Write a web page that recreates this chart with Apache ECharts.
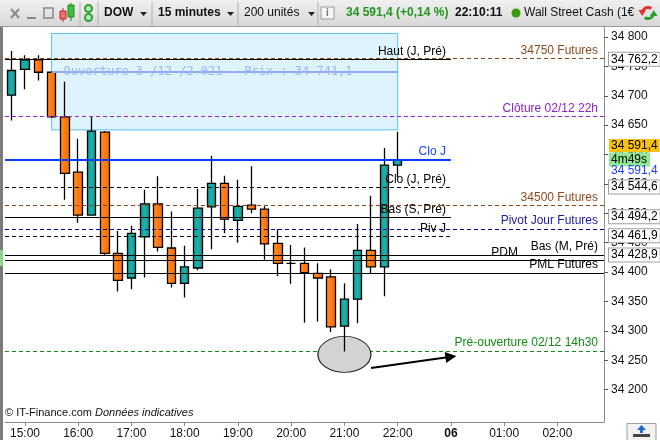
<!DOCTYPE html>
<html>
<head>
<meta charset="utf-8">
<script src="https://cdn.jsdelivr.net/npm/echarts@6/dist/echarts.min.js"></script>
<style>
  html, body { margin: 0; padding: 0; background: #fff; }
  #main { width: 660px; height: 440px; }
</style>
</head>
<body>
<div id="main"></div>
<script>
// DOW cash, 15 minute bars (Fri 3 Dec 2021, then Mon 6 Dec)
var times = ['14:45','15:00','15:15','15:30','15:45','16:00','16:15','16:30','16:45','17:00',
  '17:15','17:30','17:45','18:00','18:15','18:30','18:45','19:00','19:15','19:30',
  '19:45','20:00','20:15','20:30','20:45','21:00','21:15','21:30','21:45','22:00',
  '22:15','22:30','22:45','00:00','00:15','00:30','00:45','01:00','01:15','01:30',
  '01:45','02:00','02:15','02:30','02:45'];
var dayLabel = '06';

var openVals  = [34701,34745,34761,34740,34664,34570,34497,34638,34432,34390,
  34460,34516,34441,34381,34407,34511,34551,34488,34514,34507,
  34449,34415,34415,34398,34392,34308,34354,34437,34409,34582];
var closeVals = [34743,34761,34740,34664,34568,34497,34640,34432,34386,34466,
  34516,34442,34381,34409,34509,34551,34490,34512,34507,34448,
  34415,34415,34399,34390,34307,34354,34437,34409,34582,34591.4];
var lowVals   = [34658,34711,34726,34662,34523,34484,34497,34429,34367,34371,
  34391,34435,34374,34357,34403,34439,34466,34450,34500,34421,
  34393,34380,34314,34316,34298,34265,34313,34398,34359,34561];
var highVals  = [34776,34769,34769,34742,34724,34627,34664,34640,34470,34479,
  34540,34563,34503,34445,34542,34598,34564,34557,34580,34512,
  34473,34446,34442,34415,34405,34381,34482,34530,34611,34639];

var priceTicks = [34200,34250,34300,34350,34400,34450,34500,34550,34600,34650,34700,34750,34800];

// horizontal levels drawn over the chart
var levelNames  = ['Haut (J, Pré)','34750 Futures','Clôture 02/12 22h','Clo J','Clo (J, Pré)',
  '34500 Futures','Bas (S, Pré)','Pivot Jour Futures','Piv J','Bas (M, Pré)','PDM','PML Futures'];
var levelValues = [34762.2,34763,34665,34591.4,34544.6,34513,34494.2,34473.5,34461.9,34428.9,34420,34398.5];
var shortLevelEnd = '00:00';

var preOpenName = 'Pré-ouverture 02/12 14h30';
var preOpenValue = 34265.6;

var openName = 'Ouverture 3 /12 /2 021 \u2013 Prix : 34 741,1';
var openValue = 34741.1;
var boxTimes = ['15:30','22:00'];
var boxPrices = [34806, 34642];

var badgeValues = [34762.2,34544.6,34494.2,34461.9,34428.9];
var lastPrice = 34591.4;
var countdown = '4m49s';

var circleAt = ['21:00', 34260];
var arrowFrom = ['21:30', 34237];
var arrowTo = ['00:00', 34256];

// looks of each level (same order as levelNames)
var levelLook = [
  { c: '#000000', t: 'solid',  w: 1, full: false, tc: '#000000' },
  { c: '#8b4513', t: [4, 3],   w: 1, full: true,  tc: '#8f4a1c' },
  { c: '#9a1fd0', t: [4, 3],   w: 1, full: true,  tc: '#8e22c4' },
  { c: '#0a3cff', t: 'solid',  w: 2, full: false, tc: '#1a44ff' },
  { c: '#000000', t: [4, 3],   w: 1, full: false, tc: '#000000' },
  { c: '#8b4513', t: [4, 3],   w: 1, full: true,  tc: '#8f4a1c' },
  { c: '#000000', t: 'solid',  w: 1, full: false, tc: '#000000' },
  { c: '#00008b', t: [4, 3],   w: 1, full: true,  tc: '#1a1aa8' },
  { c: '#000000', t: [4, 3],   w: 1, full: false, tc: '#000000' },
  { c: '#000000', t: 'solid',  w: 1, full: true,  tc: '#000000' },
  { c: '#000000', t: 'solid',  w: 1, full: true,  tc: '#000000', dx: 86 },
  { c: '#000000', t: 'solid',  w: 1, full: true,  tc: '#000000' }
];

var FONT = 'Liberation Sans, Arial, sans-serif';

function fmtPrice(v, dec) {
  var s = dec ? v.toFixed(1) : v.toFixed(0);
  var parts = s.split('.');
  var intPart = parts[0].replace(/\B(?=(\d{3})+(?!\d))/g, ' ');
  return parts.length > 1 ? intPart + ',' + parts[1] : intPart;
}

var candles = openVals.map(function (o, i) {
  return [o, closeVals[i], lowVals[i], highVals[i]];
});

// full width levels -> markLine, short ones (stop at Monday open) -> custom series
var levelLines = [];
var shortLevels = [];
levelNames.forEach(function (name, i) {
  var s = levelLook[i];
  if (!s.full) {
    shortLevels.push([shortLevelEnd, levelValues[i], i]);
    return;
  }
  levelLines.push({
    yAxis: levelValues[i],
    lineStyle: { color: s.c, type: s.t, width: s.w },
    label: {
      show: true, formatter: name, position: 'insideEndTop',
      distance: [s.dx || 6, 2], color: s.tc, fontSize: 12, fontFamily: FONT
    }
  });
});

levelLines.push([
  {
    coord: [boxTimes[0], openValue],
    lineStyle: { color: '#8eaaf2', type: 'solid', width: 2 },
    label: {
      show: true, formatter: openName, position: 'insideStartTop', verticalAlign: 'middle',
      distance: [12, 0], color: '#9db4f6', fontSize: 12, fontFamily: 'DejaVu Sans Mono'
    }
  },
  { coord: [boxTimes[1], openValue] }
]);

var badgeLines = badgeValues.map(function (v) {
  return { yAxis: v, label: { formatter: fmtPrice(v, true) } };
});
badgeLines.push({
  yAxis: lastPrice,
  label: {
    formatter: '{y|' + fmtPrice(lastPrice, true) + '}\n{g|' + countdown + '}\n{b|' + fmtPrice(lastPrice, true) + '}',
    backgroundColor: 'transparent', borderWidth: 0, padding: [0, 0, 5, 0],
    rich: {
      y: { backgroundColor: '#f8c20f', color: '#000', fontSize: 12, fontFamily: FONT, padding: [1, 2, 0, 2], lineHeight: 13 },
      g: { backgroundColor: '#92e892', color: '#000', fontSize: 12, fontFamily: FONT, padding: [1, 3, 1, 2], lineHeight: 15 },
      b: { color: '#1e3cff', fontSize: 12, fontFamily: FONT, padding: [0, 2, 0, 2], lineHeight: 8 }
    }
  }
});

var tealGrad = new echarts.graphic.LinearGradient(0, 0, 1, 0, [
  { offset: 0, color: '#0e9a95' }, { offset: 0.5, color: '#1fb1ab' }, { offset: 1, color: '#0c8f8a' }
]);
var orangeGrad = new echarts.graphic.LinearGradient(0, 0, 1, 0, [
  { offset: 0, color: '#ff9330' }, { offset: 0.5, color: '#ff7a12' }, { offset: 1, color: '#f56a00' }
]);

function renderShortLevel(params, api) {
  var i = api.value(2);
  var s = levelLook[i];
  var end = api.coord([api.value(0), api.value(1)]);
  var x0 = params.coordSys.x;
  var y = s.w % 2 ? Math.round(end[1]) + 0.5 : Math.round(end[1]);
  return {
    type: 'group',
    children: [
      { type: 'line', shape: { x1: x0, y1: y, x2: end[0], y2: y },
        style: { stroke: s.c, lineWidth: s.w, lineDash: s.t === 'solid' ? null : s.t } },
      { type: 'text', x: end[0] - 5, y: y - 2,
        style: { text: levelNames[i], fill: s.tc, font: '12px ' + FONT, align: 'right', verticalAlign: 'bottom' } }
    ]
  };
}

// toolbar and frame bits
function tri(x, y) {
  return { type: 'polygon', shape: { points: [[x, y], [x + 7, y], [x + 3.5, y + 4]] }, style: { fill: '#222' } };
}
function sep(x) {
  return { type: 'line', shape: { x1: x, y1: 2, x2: x, y2: 25 }, style: { stroke: '#b2b2b2', lineWidth: 1 } };
}
function tbText(txt, x, color, weight) {
  return { type: 'text', x: x, y: 13, style: { text: txt, fill: color, font: (weight || 'normal') + ' 12px ' + FONT, verticalAlign: 'middle' } };
}
var graphics = [
  { type: 'rect', shape: { x: 0, y: 0, width: 660, height: 27 },
    style: { fill: new echarts.graphic.LinearGradient(0, 0, 0, 1, [{ offset: 0, color: '#f0f0f0' }, { offset: 1, color: '#d7d7d7' }]) } },
  { type: 'line', shape: { x1: 0, y1: 26.5, x2: 660, y2: 26.5 }, style: { stroke: '#9a9a9a' } },
  { type: 'line', shape: { x1: 11, y1: 9, x2: 19, y2: 18 }, style: { stroke: '#8a8a8a', lineWidth: 2 } },
  { type: 'line', shape: { x1: 19, y1: 9, x2: 11, y2: 18 }, style: { stroke: '#8a8a8a', lineWidth: 2 } },
  { type: 'line', shape: { x1: 27, y1: 18, x2: 36, y2: 18 }, style: { stroke: '#8a8a8a', lineWidth: 2 } },
  { type: 'rect', shape: { x: 44, y: 8, width: 9, height: 10 }, style: { fill: 'none', stroke: '#8a8a8a', lineWidth: 1.5 } },
  { type: 'line', shape: { x1: 63, y1: 8, x2: 63, y2: 22 }, style: { stroke: '#b03030' } },
  { type: 'rect', shape: { x: 60, y: 11, width: 6, height: 8 }, style: { fill: '#f07070', stroke: '#c02020' } },
  { type: 'line', shape: { x1: 71, y1: 3, x2: 71, y2: 21 }, style: { stroke: '#208020' } },
  { type: 'rect', shape: { x: 68, y: 5, width: 6, height: 12 }, style: { fill: '#40c040', stroke: '#208020' } },
  sep(80),
  { type: 'circle', shape: { cx: 88.5, cy: 8.5, r: 3.5 }, style: { fill: '#b6ecb6', stroke: '#35a035', lineWidth: 2 } },
  { type: 'circle', shape: { cx: 88.5, cy: 17.5, r: 3.5 }, style: { fill: '#b6ecb6', stroke: '#35a035', lineWidth: 2 } },
  sep(98),
  tbText('DOW', 104, '#111', 'bold'), tri(140, 12),
  sep(152),
  tbText('15 minutes', 158, '#111', 'bold'), tri(227, 12),
  sep(238),
  tbText('200 unités', 244, '#111'), tri(308, 12),
  sep(318),
  { type: 'rect', shape: { x: 321, y: 7, width: 13, height: 12 }, style: { fill: '#f6f6f6', stroke: '#999' } },
  { type: 'text', x: 327.5, y: 13, style: { text: 'i', fill: '#777', font: 'bold 10px ' + FONT, align: 'center', verticalAlign: 'middle' } },
  tbText('34 591,4 (+0,14 %)', 346, '#1f961f', 'bold'),
  tbText('22:10:11', 455, '#111', 'bold'),
  { type: 'circle', shape: { cx: 516, cy: 13, r: 4.5 }, style: { fill: '#3c9a0c' } },
  tbText('Wall Street Cash (1€', 524, '#111'),
  { type: 'arc', shape: { cx: 648, cy: 13, r: 5.5, startAngle: Math.PI * 1.05, endAngle: Math.PI * 1.7 }, style: { fill: 'none', stroke: '#e03030', lineWidth: 3 } },
  { type: 'polygon', shape: { points: [[638.5, 10], [646, 10], [642.2, 16]] }, style: { fill: '#e03030' } },
  { type: 'arc', shape: { cx: 648, cy: 13, r: 5.5, startAngle: Math.PI * 0.05, endAngle: Math.PI * 0.7 }, style: { fill: 'none', stroke: '#2aa02a', lineWidth: 3 } },
  { type: 'polygon', shape: { points: [[650, 16], [657.5, 16], [653.8, 10]] }, style: { fill: '#2aa02a' } },
  // left frame edge
  { type: 'rect', shape: { x: 0, y: 27, width: 3, height: 413 }, style: { fill: '#7a7a7a' } },
  { type: 'rect', shape: { x: 0, y: 250, width: 3, height: 16 }, style: { fill: '#8fd18f' } },
  // credit
  { type: 'text', x: 5, y: 413, style: {
      text: '{n|© IT-Finance.com }{i|Données indicatives}', verticalAlign: 'middle',
      rich: { n: { font: '11px ' + FONT, fill: '#111' }, i: { font: 'italic 11px ' + FONT, fill: '#111' } } } },
  // bottom-right button
  { type: 'rect', shape: { x: 627, y: 423.5, width: 29, height: 17 }, style: { fill: '#f2f2f2', stroke: '#a0a0a0' } },
  { type: 'polygon', shape: { points: [[641.5, 425], [646, 430], [637, 430]] }, style: { fill: '#1a6ad8' } },
  { type: 'rect', shape: { x: 640, y: 429, width: 3, height: 4 }, style: { fill: '#1a6ad8' } },
  { type: 'rect', shape: { x: 633, y: 434, width: 17, height: 3 }, style: { fill: '#444' } }
];

var chart = echarts.init(document.getElementById('main'), null, { renderer: 'canvas' });

var option = {
  animation: false,
  backgroundColor: '#fff',
  textStyle: { fontFamily: FONT },
  grid: { left: 5, right: 56, top: 27, bottom: 18 },
  graphic: graphics,
  xAxis: {
    type: 'category',
    data: times,
    boundaryGap: true,
    axisLine: { lineStyle: { color: '#8c8c8c', width: 1 } },
    axisTick: {
      show: true, alignWithLabel: true, length: 4, lineStyle: { color: '#8c8c8c' },
      interval: function (idx) { return idx % 4 === 1; }
    },
    axisLabel: {
      color: '#111', fontSize: 12, fontFamily: FONT, margin: 6,
      interval: function (idx) { return idx % 4 === 1; },
      formatter: function (v) { return v === '00:00' ? '{b|' + dayLabel + '}' : v; },
      rich: { b: { fontWeight: 'bold', fontSize: 12, fontFamily: FONT, color: '#111' } }
    },
    splitLine: { show: false }
  },
  yAxis: {
    type: 'value',
    position: 'right',
    min: 34145,
    max: 34817,
    scale: true,
    axisLine: { show: true, lineStyle: { color: '#8c8c8c', width: 1 } },
    axisTick: { show: true, length: 4, customValues: priceTicks, lineStyle: { color: '#555' } },
    axisLabel: {
      color: '#111', fontSize: 12, fontFamily: FONT, margin: 7,
      customValues: priceTicks,
      formatter: function (v) { return fmtPrice(v, false); }
    },
    splitLine: { show: false }
  },
  series: [
    {
      // annotation layer under the candles
      type: 'line',
      data: [],
      silent: true,
      markLine: {
        z: 1, silent: true, symbol: 'none', animation: false,
        label: { show: false },
        data: [
          {
            yAxis: preOpenValue,
            lineStyle: { color: '#138a13', type: [4, 3], width: 1 },
            label: { show: true, formatter: preOpenName, position: 'insideEndTop', distance: [6, 2],
              color: '#138a13', fontSize: 12, fontFamily: FONT }
          },
          [
            { coord: arrowFrom, symbol: 'none', lineStyle: { color: '#000', type: 'solid', width: 2 } },
            { coord: arrowTo, symbol: 'triangle', symbolSize: 11 }
          ]
        ]
      },
      markPoint: {
        z: 1.5, silent: true, animation: false,
        label: { show: false },
        data: [{
          coord: circleAt, symbol: 'circle', symbolSize: [53, 36],
          itemStyle: { color: '#d3d3d3', borderColor: '#222', borderWidth: 1 }
        }]
      }
    },
    {
      type: 'candlestick',
      name: 'DOW',
      data: candles,
      barWidth: 9,
      z: 2,
      silent: true,
      itemStyle: {
        color: tealGrad, color0: orangeGrad,
        borderColor: '#000', borderColor0: '#000', borderColorDoji: '#000',
        borderWidth: 1.3
      },
      markArea: {
        z: 1, silent: true,
        itemStyle: { color: '#dff3fd', borderColor: '#5cbff0', borderWidth: 1 },
        data: [[
          { coord: [boxTimes[0], boxPrices[0]] },
          { coord: [boxTimes[1], boxPrices[1]] }
        ]]
      },
      markLine: {
        z: 5, silent: true, symbol: 'none', animation: false,
        label: { show: false },
        data: levelLines
      }
    },
    {
      // levels that stop at the Monday open
      type: 'custom',
      data: shortLevels,
      encode: { x: 0, y: 1 },
      z: 5,
      silent: true,
      renderItem: renderShortLevel
    },
    {
      // price badges on the right scale
      type: 'line',
      data: [],
      silent: true,
      markLine: {
        z: 6, silent: true, symbol: 'none', animation: false,
        lineStyle: { width: 0, color: 'transparent' },
        label: {
          show: true, position: 'end', distance: 5,
          backgroundColor: '#fff', borderColor: '#a0a0a0', borderWidth: 1,
          padding: [1, 2, 0, 2], color: '#000', fontSize: 12, fontFamily: FONT
        },
        data: badgeLines
      }
    }
  ]
};

chart.setOption(option);
</script>
</body>
</html>
